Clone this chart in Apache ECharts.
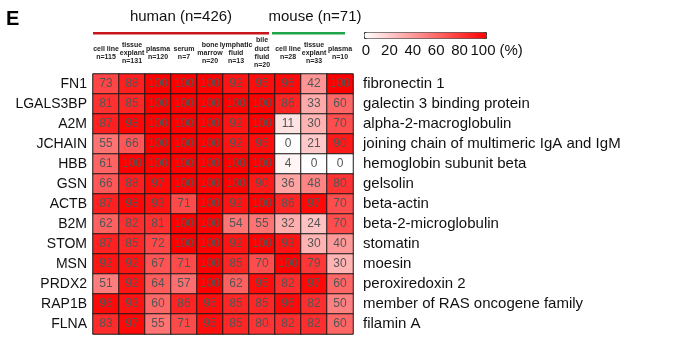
<!DOCTYPE html>
<html>
<head>
<meta charset="utf-8">
<script src="https://cdn.jsdelivr.net/npm/echarts@6/dist/echarts.min.js"></script>
<style>
  html, body { margin: 0; padding: 0; background: #fff; }
  #chart { width: 675px; height: 351px; }
</style>
</head>
<body>
<div id="chart"></div>
<script>
// sample types (columns), human 7 + mouse 3
const sampleTypes = [
  'cell line\nn=115', 'tissue\nexplant\nn=131', 'plasma\nn=120', 'serum\nn=7',
  'bone\nmarrow\nn=20', 'lymphatic\nfluid\nn=13', 'bile\nduct\nfluid\nn=20',
  'cell line\nn=28', 'tissue\nexplant\nn=33', 'plasma\nn=10'
];
const genes = ['FN1', 'LGALS3BP', 'A2M', 'JCHAIN', 'HBB', 'GSN', 'ACTB',
  'B2M', 'STOM', 'MSN', 'PRDX2', 'RAP1B', 'FLNA'];
const geneNames = [
  'fibronectin 1', 'galectin 3 binding protein', 'alpha-2-macroglobulin',
  'joining chain of multimeric IgA and IgM', 'hemoglobin subunit beta',
  'gelsolin', 'beta-actin', 'beta-2-microglobulin', 'stomatin', 'moesin',
  'peroxiredoxin 2', 'member of RAS oncogene family', 'filamin A'
];

// detection rate (%) per gene, same order as sampleTypes
const fn1 = [73, 88, 100, 100, 100, 92, 95, 96, 42, 100];
const lgals3bp = [81, 85, 100, 100, 100, 100, 100, 86, 33, 60];
const a2m = [87, 98, 100, 100, 100, 92, 100, 11, 30, 70];
const jchain = [55, 66, 100, 100, 100, 92, 95, 0, 21, 90];
const hbb = [61, 100, 100, 100, 100, 100, 100, 4, 0, 0];
const gsn = [66, 88, 97, 100, 100, 100, 90, 36, 48, 80];
const actb = [87, 98, 93, 71, 100, 92, 100, 86, 97, 70];
const b2m = [62, 82, 81, 100, 100, 54, 55, 32, 24, 70];
const stom = [87, 85, 72, 100, 100, 92, 100, 93, 30, 40];
const msn = [92, 92, 67, 71, 100, 85, 70, 100, 79, 30];
const prdx2 = [51, 92, 64, 57, 100, 62, 95, 82, 97, 60];
const rap1b = [96, 93, 60, 86, 95, 85, 85, 96, 82, 50];
const flna = [83, 97, 55, 71, 95, 85, 80, 82, 82, 60];
const rows = [fn1, lgals3bp, a2m, jchain, hbb, gsn, actb, b2m, stom, msn, prdx2, rap1b, flna];

const FONT = "'Liberation Sans', Arial, sans-serif";

// layout
const gridLeft = 93, gridTop = 74, cellW = 26, cellH = 20;
const gridW = cellW * sampleTypes.length;
const gridH = cellH * genes.length;
const humanCols = 7;

const data = [];
rows.forEach((r, gi) => {
  r.forEach((v, ci) => data.push([ci, gi, v]));
});

const chart = echarts.init(document.getElementById('chart'));
chart.setOption({
  backgroundColor: '#fff',
  animation: false,
  textStyle: { fontFamily: FONT },
  grid: [
    { left: gridLeft, top: gridTop, width: gridW, height: gridH },
    // colorbar scale
    { left: 366, top: 32, width: 117, height: 6 }
  ],
  xAxis: [{
    type: 'category',
    gridIndex: 0,
    position: 'top',
    data: sampleTypes,
    axisLine: { show: false },
    axisTick: { show: false },
    splitLine: { show: false },
    axisLabel: {
      interval: 0,
      margin: 21,
      verticalAlign: 'middle',
      fontSize: 7,
      fontWeight: 'bold',
      lineHeight: 8.3,
      color: '#222',
      fontFamily: FONT
    }
  }, {
    type: 'value',
    gridIndex: 1,
    min: 0,
    max: 100,
    interval: 20,
    name: '(%)',
    nameLocation: 'end',
    nameGap: 15,
    nameTextStyle: { fontSize: 15, color: '#111', verticalAlign: 'top', padding: [5, 0, 0, 0], fontFamily: FONT },
    axisLine: { show: false },
    axisTick: { show: false },
    splitLine: { show: false },
    axisLabel: { margin: 5, fontSize: 15, color: '#111', fontFamily: FONT }
  }],
  yAxis: [{
    type: 'category',
    gridIndex: 0,
    data: genes,
    inverse: true,
    axisLine: { show: false },
    axisTick: { show: false },
    axisLabel: { margin: 6, fontSize: 14, color: '#111', fontFamily: FONT }
  }, {
    type: 'category',
    gridIndex: 0,
    position: 'right',
    data: geneNames,
    inverse: true,
    axisLine: { show: false },
    axisTick: { show: false },
    axisLabel: { margin: 10, fontSize: 15, color: '#111', align: 'left', fontFamily: FONT }
  }, {
    type: 'value',
    gridIndex: 1,
    show: false
  }],
  visualMap: {
    type: 'continuous',
    seriesIndex: 0,
    min: 0,
    max: 100,
    orient: 'horizontal',
    left: 364,
    top: 32,
    itemWidth: 6,
    itemHeight: 122,
    padding: 0,
    calculable: false,
    text: null,
    showLabel: false,
    borderColor: '#333',
    borderWidth: 1,
    inRange: { color: ['#ffffff', '#ff0000'] }
  },
  graphic: [
    { type: 'text', left: 6, top: 9, style: { text: 'E', fontSize: 20, fontWeight: 'bold', fill: '#000', fontFamily: FONT } },
    {
      type: 'text', x: gridLeft + 88, y: 17,
      style: { text: 'human (n=426)', fontSize: 15, fill: '#111', align: 'center', verticalAlign: 'middle', fontFamily: FONT }
    },
    {
      type: 'text', x: gridLeft + cellW * humanCols + 40, y: 17,
      style: { text: 'mouse (n=71)', fontSize: 15, fill: '#111', align: 'center', verticalAlign: 'middle', fontFamily: FONT }
    },
    {
      type: 'rect',
      shape: { x: gridLeft, y: 32, width: cellW * humanCols - 6, height: 2.5 },
      style: { fill: '#c8161d' }
    },
    {
      type: 'rect',
      shape: { x: gridLeft + cellW * humanCols - 3, y: 32, width: cellW * 3 - 5, height: 2.5 },
      style: { fill: '#1fa64a' }
    }
  ],
  series: [{
    type: 'heatmap',
    xAxisIndex: 0,
    yAxisIndex: 0,
    data: data,
    itemStyle: { borderColor: '#1a1a1a', borderWidth: 1 },
    label: {
      show: true,
      fontSize: 12,
      color: '#555',
      fontFamily: FONT,
      formatter: (p) => p.value[2]
    },
    emphasis: { disabled: true }
  }]
});
</script>
</body>
</html>
